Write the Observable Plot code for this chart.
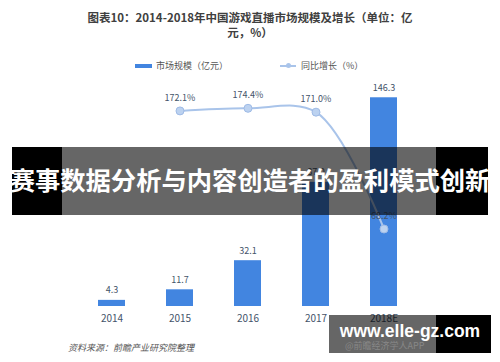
<!DOCTYPE html>
<html>
<head>
<meta charset="utf-8">
<script src="https://cdn.jsdelivr.net/npm/d3@7"></script>
<script src="https://cdn.jsdelivr.net/npm/@observablehq/plot@0.6"></script>
<style>
  body { margin: 0; background: #fff; font-family: "Noto Sans CJK SC", "Noto Sans", sans-serif; }
  #wrap { position: relative; width: 500px; height: 362px; overflow: hidden; }
  #chart { position: absolute; left: 0; top: 0; }
  .abs { position: absolute; white-space: nowrap; }
  #title { left: 0; width: 500px; top: 10px; text-align: center; font-size: 11.5px; font-weight: bold; color: #404040; line-height: 15px; }
  .legtext { font-size: 9px; color: #555; line-height: 12px; }
  #banner { left: 12px; top: 147px; width: 476px; height: 68px; }
  #banner .blk { position: absolute; top: 0; height: 100%; background: #000; }
  #banner .gry { position: absolute; top: 0; height: 100%; background: rgba(0,0,0,0.6); }
  #banner .txt { position: absolute; left: -10px; width: 496px; top: 0; height: 68px; line-height: 68px; text-align: center; color: #fff; font-size: 25.3px; font-weight: bold; margin-top: -2px; }
  #source { left: 68px; top: 341px; font-size: 9px; font-style: italic; color: #555; }
  #wm { left: 329px; top: 315px; width: 162px; height: 38px; }
  #wm .gry { position: absolute; left: 0; top: 0; width: 107px; height: 38px; background: rgba(0,0,0,0.6); }
  #wm .blk { position: absolute; left: 107px; top: 0; width: 55px; height: 38px; background: #000; }
  #wm .app { position: absolute; left: 16px; top: 24px; font-size: 9px; color: #888; }
  #wm .txt { position: absolute; left: 0; width: 162px; top: 0; height: 38px; line-height: 38px; text-align: center; color: #fff; font-size: 17.5px; font-weight: bold; font-family: "Liberation Sans", Arial, sans-serif; margin-top: -3px; }
</style>
</head>
<body>
<div id="wrap">
  <div id="chart"></div>
  <div id="title" class="abs">图表10：2014-2018年中国游戏直播市场规模及增长（单位：亿<br>元，%）</div>
  <div class="abs" style="left:135px;top:64px;width:17px;height:4px;background:#4285e0;"></div>
  <div class="abs legtext" style="left:156px;top:60px;">市场规模（亿元）</div>
  <div class="abs" style="left:280px;top:65px;width:16px;height:1.5px;background:#a9c4ea;"></div>
  <div class="abs" style="left:286px;top:63px;width:5px;height:5px;border-radius:50%;background:#a9c4ea;"></div>
  <div class="abs legtext" style="left:301px;top:60px;">同比增长（%）</div>
  <div id="banner" class="abs">
    <div class="blk" style="left:0;width:50px;"></div>
    <div class="gry" style="left:50px;width:374px;"></div>
    <div class="blk" style="left:424px;width:52px;"></div>
    <div class="txt">赛事数据分析与内容创造者的盈利模式创新</div>
  </div>
  <div id="source" class="abs">资料来源：前瞻产业研究院整理</div>
  <div id="wm" class="abs">
    <div class="gry"></div>
    <div class="blk"></div>
    <div class="app">@前瞻经济学人APP</div>
    <div class="txt">www.elle-gz.com</div>
  </div>
</div>
<script>
const years = ["2014", "2015", "2016", "2017", "2018E"];
const marketSize = [4.3, 11.7, 32.1, 87.0, 146.3];
const growth = [null, 172.1, 174.4, 171.0, 68.2];
const growthLabels = ["", "172.1%", "174.4%", "171.0%", "68.2%"];

// right-axis (growth) mapped onto the bar axis units
const growthToBar = 0.7966;

const bars = years.map((y, i) => ({year: y, value: marketSize[i]}));
const line = years.map((y, i) => ({year: y, g: growth[i], label: growthLabels[i]})).filter(d => d.g != null);

const chart = Plot.plot({
  width: 500,
  height: 362,
  marginLeft: 56,
  marginRight: 60,
  marginTop: 92,
  marginBottom: 56,
  style: {fontFamily: "Noto Sans CJK SC, Noto Sans, sans-serif", background: "transparent"},
  x: {domain: years, padding: 0.6, label: null, tickSize: 0, tickPadding: 8, fontSize: 9},
  y: {domain: [0, 150], axis: null},
  marks: [
    Plot.barY(bars, {x: "year", y: "value", fill: "#4285e0"}),
    Plot.text(bars, {x: "year", y: "value", text: d => d.value.toFixed(1), dy: -10, fontSize: 9, fill: "#44546a"}),
    Plot.line(line, {x: "year", y: d => d.g * growthToBar, stroke: "#a9c4ea", strokeWidth: 2, curve: "catmull-rom"}),
    Plot.dot(line, {x: "year", y: d => d.g * growthToBar, r: 4, fill: "#bcd2f0", stroke: "#9fbbe6", strokeWidth: 1}),
    Plot.text(line, {x: "year", y: d => d.g * growthToBar, text: "label", dy: -13, fontSize: 9, fill: "#44546a"})
  ]
});
chart.querySelectorAll("g[aria-label='x-axis tick label'] text, g[aria-label='x-axis tick label']").forEach(e => e.setAttribute("fill", "#44546a"));
document.getElementById("chart").appendChild(chart);
</script>
</body>
</html>
